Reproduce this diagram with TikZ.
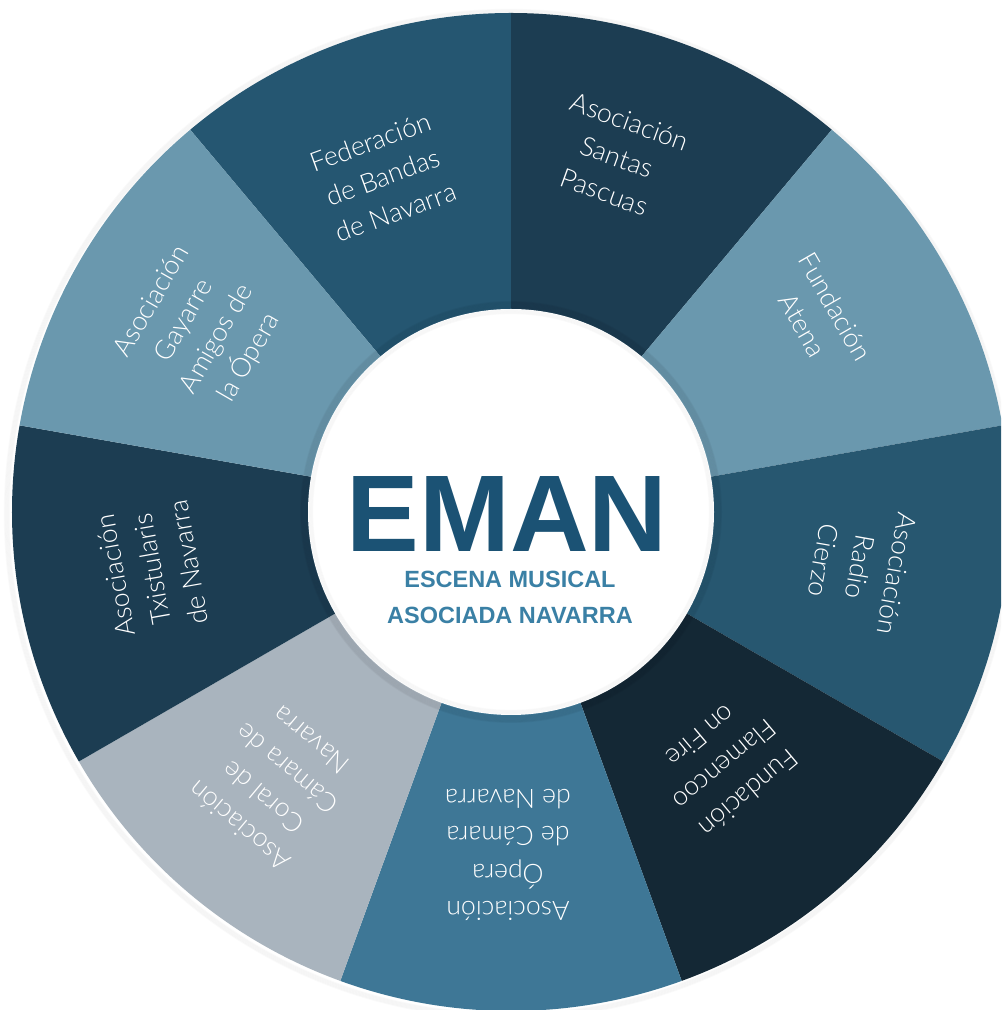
\documentclass[tikz,border=0pt]{standalone}
\usepackage{fontspec}
\setmainfont{Liberation Sans}
\IfFontExistsTF{Lato Light}{\newfontfamily\thinfont{Lato Light}}{\newfontfamily\thinfont{Liberation Sans}}
\newfontfamily\boldfont{Liberation Sans Bold}
\definecolor{cFed}{HTML}{255671}
\definecolor{cSan}{HTML}{1C3D52}
\definecolor{cLight}{HTML}{6A98AE}
\definecolor{cRad}{HTML}{275770}
\definecolor{cFla}{HTML}{142835}
\definecolor{cOpe}{HTML}{3E7796}
\definecolor{cCor}{HTML}{A9B4BE}
\definecolor{cEman}{HTML}{1B5274}
\definecolor{cSub}{HTML}{3A80A5}
\tikzset{
  seglabel/.style={text=white, align=center, inner sep=0pt,
    font=\thinfont\fontsize{20}{28}\selectfont},
  subtitle/.style={text=cSub, anchor=base, inner sep=0pt,
    font=\boldfont\fontsize{17.6}{20}\selectfont}
}
\begin{document}
\begin{tikzpicture}[x=0.75pt,y=0.75pt]
\useasboundingbox (0,0) rectangle (1001,1010);
\clip (0,0) rectangle (1001,1010);
\fill[white] (0,0) rectangle (1001,1010);
\coordinate (C) at (511,498);
% outer soft shadow
\foreach \i in {1,...,6}{
  \draw[black, opacity=0.02, line width=1.2] ([xshift=-1.5pt,yshift=-1.5pt]C) circle[radius=499+\i*0.9];
}
% segments
\foreach \a/\col in {130/cFed, 90/cSan, 50/cLight, 10/cRad, -30/cFla, -70/cOpe, -110/cCor, -150/cSan, 170/cLight}{
  \fill[\col] (C) -- +(\a:499) arc[start angle=\a, delta angle=-40, radius=499] -- cycle;
}
% inner circle shadow
\foreach \i in {1,...,8}{
  \draw[black, opacity=0.035, line width=1.2] (C) circle[radius=203+\i*0.9];
}
\fill[white] (C) circle[radius=203];
\foreach \i in {1,...,5}{
  \draw[black, opacity=0.02, line width=1] (C) circle[radius=203-\i*0.9];
}
% segment labels
\node[seglabel, rotate=20]   (fed) at (383,833) {Federación\\de Bandas\\de Navarra};
\node[seglabel, rotate=-20]  (san) at (617,853) {Asociación\\Santas\\Pascuas};
\node[seglabel, rotate=-60]  (ate) at (819,694) {Fundación\\Atena};
\node[seglabel, rotate=-100] (rad) at (860,443) {Asociación\\Radio\\Cierzo};
\node[seglabel, rotate=-140] (fla) at (725,245) {Fundación\\Flamencoo\\on Fire};
\node[seglabel, rotate=180]  (ope) at (508,155) {Asociación\\Ópera\\de Cámara\\de Navarra};
\node[seglabel, rotate=140]  (cor) at (275,227) {Asociación\\Coral de\\Cámara de\\Navarra};
\node[seglabel, rotate=100]  (txi) at (152,441) {Asociación\\Txistularis\\de Navarra};
\node[seglabel, rotate=60]   (gay) at (201,680) {Asociación\\Gayarre\\Amigos de\\la Ópera};
% center
\node[text=cEman, anchor=base, inner sep=0pt, font=\boldfont\fontsize{81.75}{90}\selectfont] (eman) at (507,458) {EMAN};
\node[subtitle] (sub1) at (510,422) {ESCENA MUSICAL};
\node[subtitle] (sub2) at (510,386) {ASOCIADA NAVARRA};
\end{tikzpicture}
\end{document}
